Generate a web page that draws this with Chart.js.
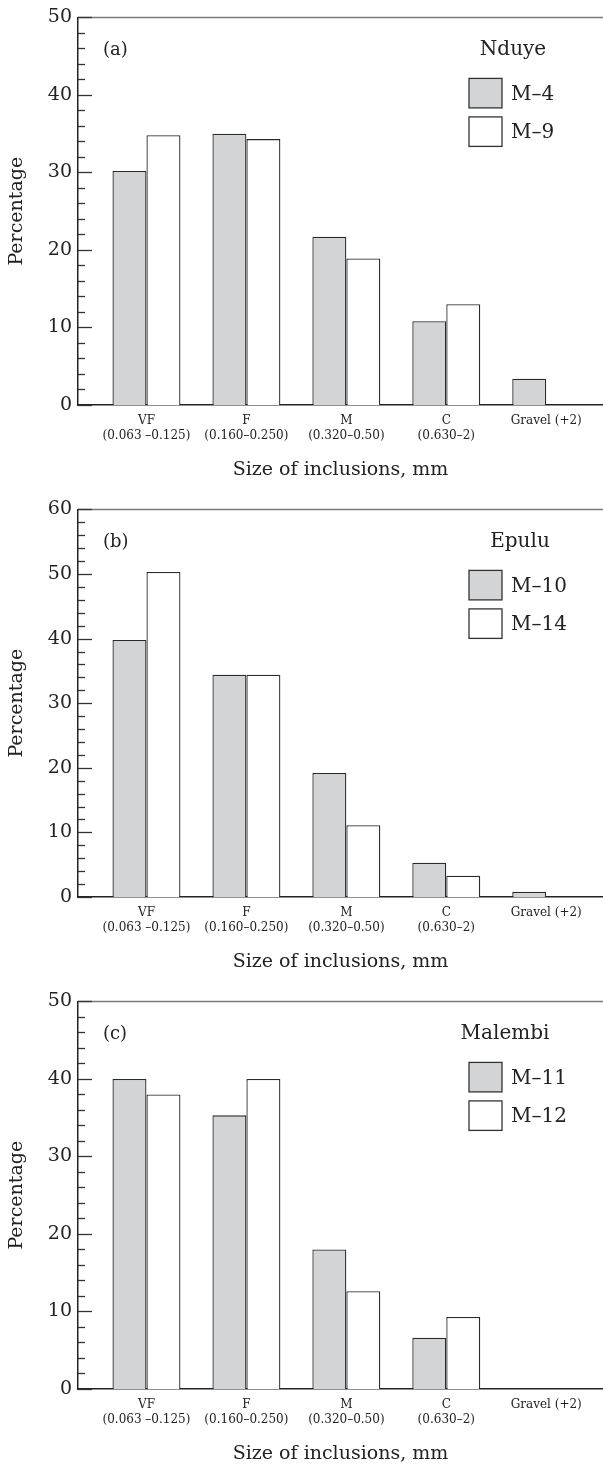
<!DOCTYPE html>
<html>
<head>
<meta charset="utf-8">
<script src="https://cdn.jsdelivr.net/npm/chart.js@4.4.1/dist/chart.umd.min.js"></script>
<style>
html, body { margin: 0; padding: 0; background: #fff; overflow: hidden; }
canvas { display: block; }
</style>
</head>
<body>
<canvas id="chartA" width="603" height="492"></canvas>
<canvas id="chartB" width="603" height="492"></canvas>
<canvas id="chartC" width="603" height="492"></canvas>
<script>
// size classes of the inclusions (x axis)
const sizeClasses = ['VF', 'F', 'M', 'C', 'Gravel (+2)'];
const sizeRanges = ['(0.063 \u20130.125)', '(0.160\u20130.250)', '(0.320\u20130.50)', '(0.630\u20132)', ''];

// (a) Nduye
const nduyeM4 = [30.2, 35.0, 21.7, 10.8, 3.4];
const nduyeM9 = [34.8, 34.3, 18.9, 13.0, null];
// (b) Epulu
const epuluM10 = [39.8, 34.4, 19.2, 5.3, 0.8];
const epuluM14 = [50.3, 34.4, 11.1, 3.3, null];
// (c) Malembi
const malembiM11 = [40.0, 35.3, 18.0, 6.6, null];
const malembiM12 = [38.0, 40.0, 12.6, 9.3, null];

const yMaxA = 50, yMaxB = 60, yMaxC = 50;

const serif = 'DejaVu Serif';
const ink = '#222';
const greyFill = '#d3d4d6';

function toPoints(vals) {
  return vals.map((v, i) => ({ x: i, y: v }));
}

// inward ticks, top frame line, panel tag and the little legend
function decorPlugin(tag, site, siteShift) {
  return {
    id: 'decor',
    afterDraw(chart) {
      const { ctx, chartArea } = chart;
      const y = chart.scales.y;
      const left = chartArea.left;
      ctx.save();
      // top line
      ctx.strokeStyle = '#7a7a7a';
      ctx.lineWidth = 1.5;
      ctx.beginPath();
      ctx.moveTo(left, chartArea.top);
      ctx.lineTo(chartArea.right, chartArea.top);
      ctx.stroke();
      // ticks pointing into the plot
      ctx.strokeStyle = '#333';
      ctx.lineWidth = 1.3;
      for (let v = 0; v <= y.max; v += 2) {
        const py = Math.round(y.getPixelForValue(v)) + 0.5;
        const len = v % 10 === 0 ? 14 : 7;
        ctx.beginPath();
        ctx.moveTo(left, py);
        ctx.lineTo(left + len, py);
        ctx.stroke();
      }
      // panel tag
      ctx.fillStyle = ink;
      ctx.font = '18px "' + serif + '"';
      ctx.textAlign = 'left';
      ctx.textBaseline = 'middle';
      ctx.fillText(tag, left + 25, chartArea.top + 33);
      // legend
      const bx = chartArea.right - 134;
      ctx.font = '20px "' + serif + '"';
      ctx.textAlign = 'center';
      ctx.fillText(site, chartArea.right - siteShift, chartArea.top + 32);
      ctx.textAlign = 'left';
      chart.data.datasets.forEach((ds, i) => {
        const by = chartArea.top + 61 + i * 38.5;
        ctx.fillStyle = ds.backgroundColor;
        ctx.fillRect(bx, by, 33, 29.5);
        ctx.strokeStyle = '#333';
        ctx.lineWidth = 1.3;
        ctx.strokeRect(bx, by, 33, 29.5);
        ctx.fillStyle = ink;
        ctx.fillText(ds.label, bx + 42, by + 16);
      });
      ctx.restore();
    }
  };
}

function makePanel(id, tag, site, siteShift, names, s1, s2, yMax) {
  const ctx = document.getElementById(id).getContext('2d');
  return new Chart(ctx, {
    type: 'bar',
    data: {
      datasets: [
        { label: names[0], data: toPoints(s1), backgroundColor: greyFill, borderColor: '#2a2a2a', borderWidth: 1.3 },
        { label: names[1], data: toPoints(s2), backgroundColor: '#ffffff', borderColor: '#2a2a2a', borderWidth: 1.3 }
      ]
    },
    options: {
      responsive: false,
      devicePixelRatio: 1,
      animation: false,
      layout: { padding: { top: 15, left: 0, right: 0, bottom: 0 } },
      datasets: { bar: { categoryPercentage: 0.68, barPercentage: 1.0 } },
      plugins: { legend: { display: false }, tooltip: { enabled: false } },
      scales: {
        x: {
          type: 'linear',
          min: -0.685,
          max: 4.568,
          offset: false,
          grid: { display: false, drawTicks: false },
          border: { display: true, color: ink, width: 1.5 },
          afterBuildTicks: (s) => { s.ticks = sizeClasses.map((c, i) => ({ value: i })); },
          afterFit: (s) => { s.height = 87; },
          ticks: {
            padding: 8,
            maxRotation: 0,
            autoSkip: false,
            color: ink,
            font: { family: serif, size: 12, lineHeight: 1.25 },
            callback: (v) => sizeRanges[v] ? [sizeClasses[v], sizeRanges[v]] : sizeClasses[v]
          },
          title: {
            display: true,
            text: 'Size of inclusions, mm',
            color: ink,
            font: { family: serif, size: 19 },
            padding: { top: 0, bottom: 11 }
          }
        },
        y: {
          min: 0,
          max: yMax,
          grid: { display: false, drawTicks: false },
          border: { display: true, color: ink, width: 1.5 },
          afterFit: (s) => { s.width = 78; },
          ticks: {
            stepSize: 10,
            padding: 6,
            color: ink,
            font: { family: serif, size: 19 }
          },
          title: {
            display: true,
            text: 'Percentage',
            color: ink,
            font: { family: serif, size: 19 },
            padding: { top: 6, bottom: 0 }
          }
        }
      }
    },
    plugins: [decorPlugin(tag, site, siteShift)]
  });
}

makePanel('chartA', '(a)', 'Nduye', 90, ['M\u20134', 'M\u20139'], nduyeM4, nduyeM9, yMaxA);
makePanel('chartB', '(b)', 'Epulu', 83, ['M\u201310', 'M\u201314'], epuluM10, epuluM14, yMaxB);
makePanel('chartC', '(c)', 'Malembi', 98, ['M\u201311', 'M\u201312'], malembiM11, malembiM12, yMaxC);
</script>
</body>
</html>
